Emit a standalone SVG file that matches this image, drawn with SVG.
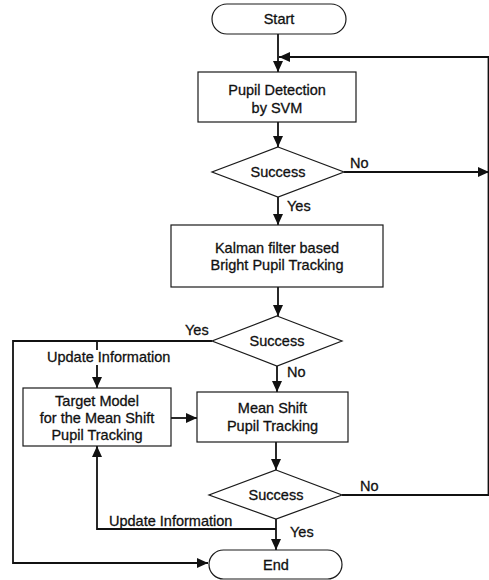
<svg xmlns="http://www.w3.org/2000/svg" width="489" height="580" viewBox="0 0 489 580">
  <style>
    .shape { fill: #ffffff; stroke: #1a1a1a; stroke-width: 1.2; }
    .wire { fill: none; stroke: #111111; stroke-width: 1.8; }
    text { font-family: "Liberation Sans", Arial, sans-serif; font-size: 14.5px; fill: #111111; stroke: #111111; stroke-width: 0.3; }
    .c { text-anchor: middle; }
  </style>
  <defs>
    <marker id="arrow" markerUnits="userSpaceOnUse" markerWidth="12" markerHeight="12" viewBox="0 0 12 12" refX="11" refY="6" orient="auto">
      <path d="M0,1 L11,6 L0,11 Z" fill="#111111"/>
    </marker>
  </defs>
  <rect width="489" height="580" fill="#ffffff"/>

  <g id="connectors">
    <line class="wire" x1="278" y1="34" x2="278" y2="72" marker-end="url(#arrow)"/>
    <path class="wire" d="M342,495 H488.5 V57 H279" marker-end="url(#arrow)"/>
    <line class="wire" x1="278" y1="122" x2="278" y2="147" marker-end="url(#arrow)"/>
    <line class="wire" x1="344" y1="172" x2="489" y2="172" marker-end="url(#arrow)"/>
    <line class="wire" x1="278" y1="197" x2="278" y2="225" marker-end="url(#arrow)"/>
    <line class="wire" x1="278" y1="287" x2="278" y2="316" marker-end="url(#arrow)"/>
    <path class="wire" d="M212,341 H13 V563 H208" marker-end="url(#arrow)"/>
    <line class="wire" x1="97" y1="341" x2="97" y2="350"/>
    <line class="wire" x1="97" y1="365" x2="97" y2="388" marker-end="url(#arrow)"/>
    <line class="wire" x1="277" y1="366" x2="277" y2="392" marker-end="url(#arrow)"/>
    <line class="wire" x1="171" y1="418" x2="197" y2="418" marker-end="url(#arrow)"/>
    <line class="wire" x1="276" y1="442" x2="276" y2="470" marker-end="url(#arrow)"/>
    <line class="wire" x1="276" y1="519" x2="276" y2="550" marker-end="url(#arrow)"/>
    <path class="wire" d="M276,529 H97 V446" marker-end="url(#arrow)"/>
  </g>

  <g id="start">
    <rect class="shape" x="212" y="4" width="134" height="30" rx="15" ry="15"/>
    <text class="c" x="279" y="24">Start</text>
  </g>

  <g id="pupil-detection">
    <rect class="shape" x="198" y="72" width="158" height="50"/>
    <text class="c" x="277" y="95">Pupil Detection</text>
    <text class="c" x="277" y="113">by SVM</text>
  </g>

  <g id="decision-detection">
    <polygon class="shape" points="278,147 344,172 278,197 212,172"/>
    <text class="c" x="278" y="177">Success</text>
    <text x="350" y="168">No</text>
    <text x="287" y="211">Yes</text>
  </g>

  <g id="kalman-tracking">
    <rect class="shape" x="171" y="225" width="212" height="62"/>
    <text class="c" x="277" y="253">Kalman filter based</text>
    <text class="c" x="277" y="270">Bright Pupil Tracking</text>
  </g>

  <g id="decision-kalman">
    <polygon class="shape" points="277,316 342,341 277,366 212,341"/>
    <text class="c" x="277" y="346">Success</text>
    <text x="185" y="335">Yes</text>
    <text x="287" y="377">No</text>
    <text x="47" y="362">Update Information</text>
  </g>

  <g id="target-model">
    <rect class="shape" x="23" y="388" width="148" height="58"/>
    <text class="c" x="97" y="406">Target Model</text>
    <text class="c" x="97" y="423">for the Mean Shift</text>
    <text class="c" x="97" y="440">Pupil Tracking</text>
  </g>

  <g id="mean-shift-tracking">
    <rect class="shape" x="197" y="392" width="151" height="50"/>
    <text class="c" x="272.5" y="413">Mean Shift</text>
    <text class="c" x="272.5" y="431">Pupil Tracking</text>
  </g>

  <g id="decision-mean-shift">
    <polygon class="shape" points="276,470 342,495 276,519 209,495"/>
    <text class="c" x="276" y="500">Success</text>
    <text x="360" y="491">No</text>
    <text x="290" y="537">Yes</text>
    <text x="109" y="526">Update Information</text>
  </g>

  <g id="end">
    <rect class="shape" x="209" y="550" width="133" height="29" rx="14.5" ry="14.5"/>
    <text class="c" x="276" y="570">End</text>
  </g>
</svg>
